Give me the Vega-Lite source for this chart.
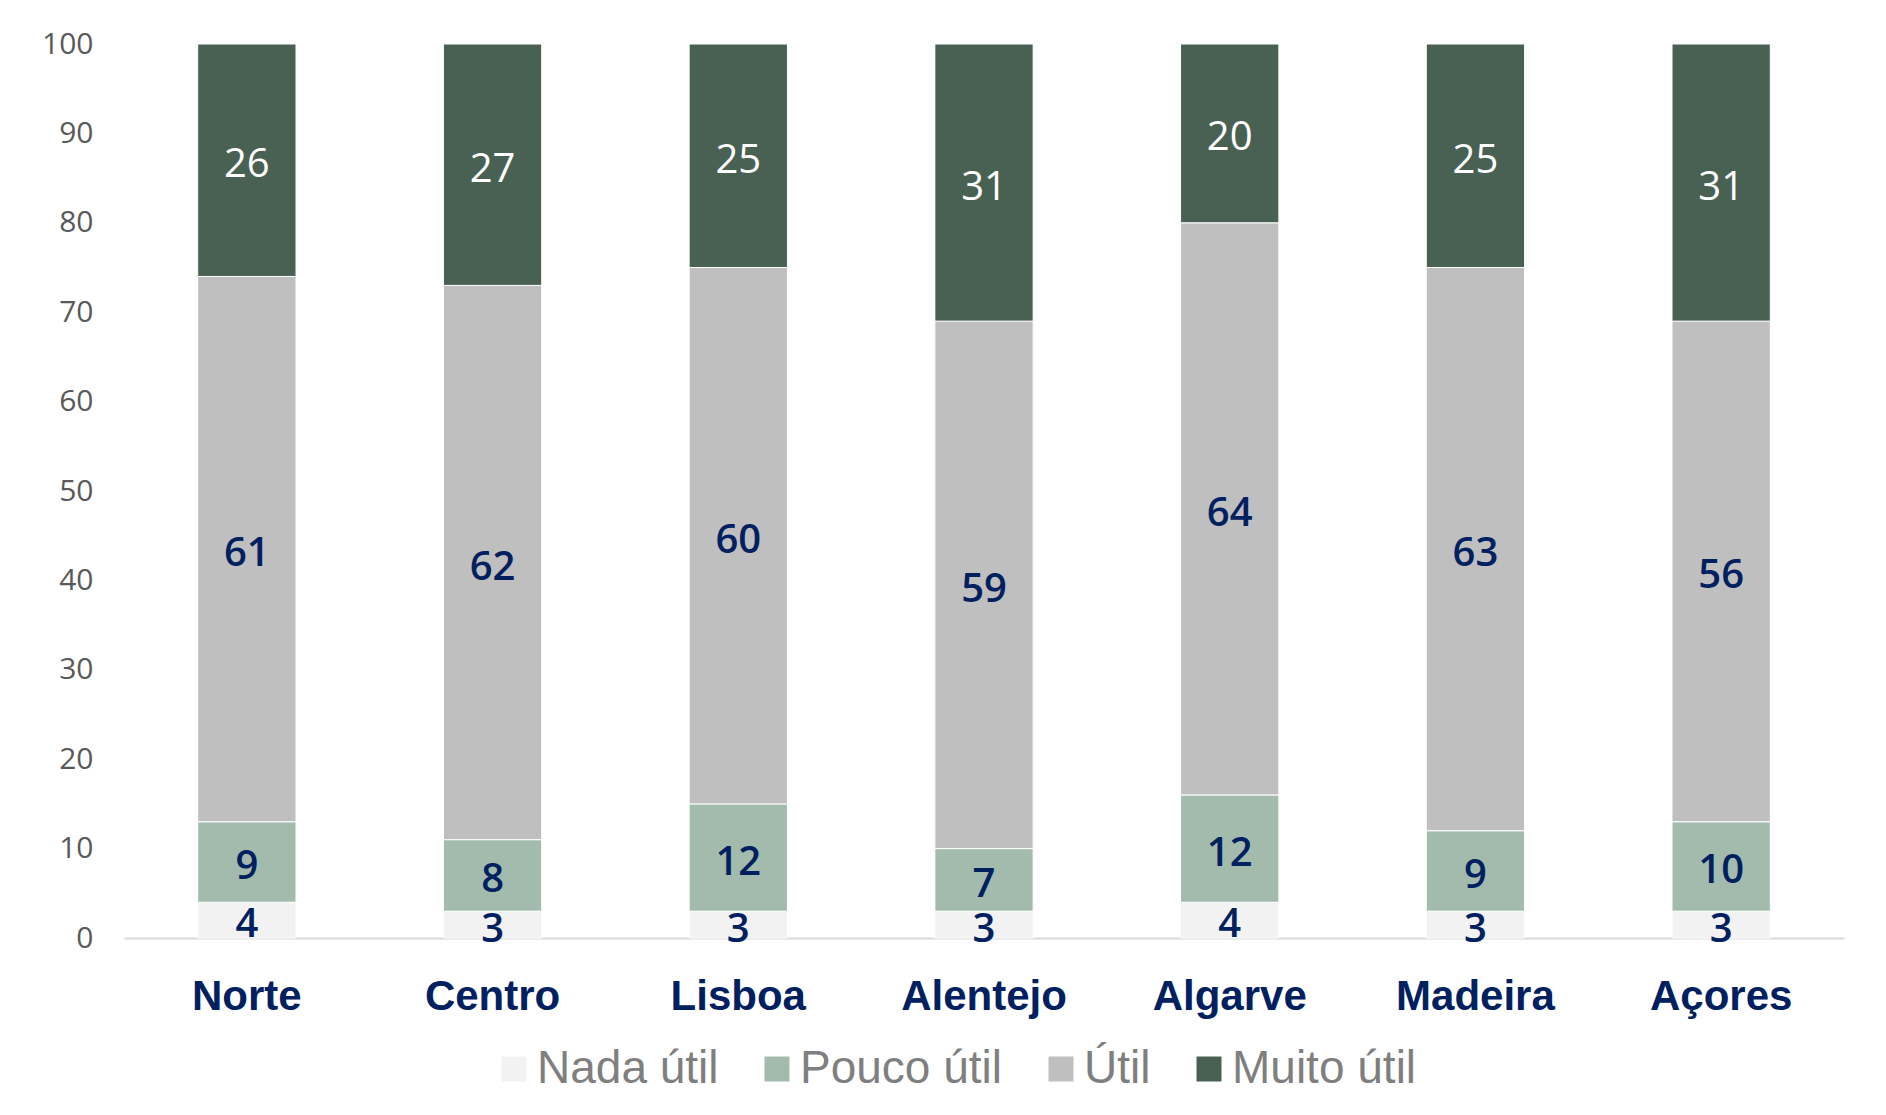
{
  "$schema": "https://vega.github.io/schema/vega-lite/v6.json",
  "width": 1720,
  "height": 894,
  "autosize": {"type": "none"},
  "padding": {"left": 124, "top": 44, "right": 42, "bottom": 177},
  "background": "#ffffff",
  "config": {"view": {"stroke": null}},
  "data": {
    "values": [
      {"region": "Norte", "cat": "Nada útil", "ord": 1, "value": 4},
      {"region": "Norte", "cat": "Pouco útil", "ord": 2, "value": 9},
      {"region": "Norte", "cat": "Útil", "ord": 3, "value": 61},
      {"region": "Norte", "cat": "Muito útil", "ord": 4, "value": 26},
      {"region": "Centro", "cat": "Nada útil", "ord": 1, "value": 3},
      {"region": "Centro", "cat": "Pouco útil", "ord": 2, "value": 8},
      {"region": "Centro", "cat": "Útil", "ord": 3, "value": 62},
      {"region": "Centro", "cat": "Muito útil", "ord": 4, "value": 27},
      {"region": "Lisboa", "cat": "Nada útil", "ord": 1, "value": 3},
      {"region": "Lisboa", "cat": "Pouco útil", "ord": 2, "value": 12},
      {"region": "Lisboa", "cat": "Útil", "ord": 3, "value": 60},
      {"region": "Lisboa", "cat": "Muito útil", "ord": 4, "value": 25},
      {"region": "Alentejo", "cat": "Nada útil", "ord": 1, "value": 3},
      {"region": "Alentejo", "cat": "Pouco útil", "ord": 2, "value": 7},
      {"region": "Alentejo", "cat": "Útil", "ord": 3, "value": 59},
      {"region": "Alentejo", "cat": "Muito útil", "ord": 4, "value": 31},
      {"region": "Algarve", "cat": "Nada útil", "ord": 1, "value": 4},
      {"region": "Algarve", "cat": "Pouco útil", "ord": 2, "value": 12},
      {"region": "Algarve", "cat": "Útil", "ord": 3, "value": 64},
      {"region": "Algarve", "cat": "Muito útil", "ord": 4, "value": 20},
      {"region": "Madeira", "cat": "Nada útil", "ord": 1, "value": 3},
      {"region": "Madeira", "cat": "Pouco útil", "ord": 2, "value": 9},
      {"region": "Madeira", "cat": "Útil", "ord": 3, "value": 63},
      {"region": "Madeira", "cat": "Muito útil", "ord": 4, "value": 25},
      {"region": "Açores", "cat": "Nada útil", "ord": 1, "value": 3},
      {"region": "Açores", "cat": "Pouco útil", "ord": 2, "value": 10},
      {"region": "Açores", "cat": "Útil", "ord": 3, "value": 56},
      {"region": "Açores", "cat": "Muito útil", "ord": 4, "value": 31}
    ]
  },
  "encoding": {
    "x": {
      "field": "region",
      "type": "nominal",
      "sort": ["Norte", "Centro", "Lisboa", "Alentejo", "Algarve", "Madeira", "Açores"],
      "scale": {"paddingInner": 0.6, "paddingOuter": 0.3},
      "axis": {
        "title": null,
        "ticks": false,
        "labelAngle": 0,
        "domainColor": "#d9d9d9",
        "domainWidth": 2,
        "labelFont": "Liberation Sans",
        "labelFontSize": 42,
        "labelFontWeight": "bold",
        "labelColor": "#002060",
        "labelPadding": 38
      }
    },
    "y": {
      "field": "value",
      "type": "quantitative",
      "stack": "zero",
      "scale": {"domain": [0, 100], "nice": false},
      "axis": {
        "title": null,
        "values": [0, 10, 20, 30, 40, 50, 60, 70, 80, 90, 100],
        "domain": false,
        "ticks": false,
        "grid": false,
        "labelFont": "Open Sans",
        "labelFontSize": 30,
        "labelColor": "#595959",
        "labelPadding": 31
      }
    },
    "order": {"field": "ord", "type": "quantitative"}
  },
  "layer": [
    {
      "mark": {"type": "bar", "stroke": "#ffffff", "strokeWidth": 1},
      "encoding": {
        "color": {
          "field": "cat",
          "type": "nominal",
          "scale": {
            "domain": ["Nada útil", "Pouco útil", "Útil", "Muito útil"],
            "range": ["#f2f2f2", "#a2bbad", "#bfbfbf", "#486152"]
          },
          "legend": {
            "title": null,
            "orient": "none",
            "legendX": 367,
            "legendY": 1002,
            "direction": "horizontal",
            "symbolType": "square",
            "symbolSize": 625,
            "symbolStrokeWidth": 0,
            "labelFont": "Liberation Sans",
            "labelFontSize": 46,
            "labelColor": "#7f7f7f",
            "labelOffset": 0,
            "columnPadding": 35,
            "padding": 0,
            "labelLimit": 400
          }
        }
      }
    },
    {
      "mark": {"type": "text", "font": "Open Sans", "fontSize": 40, "fontWeight": 600, "color": "#002060", "baseline": "middle", "dy": 5},
      "encoding": {
        "y": {"field": "value", "type": "quantitative", "stack": "zero", "bandPosition": 0.5},
        "detail": {"field": "cat", "type": "nominal"},
        "text": {"condition": {"test": "datum.cat !== 'Muito útil'", "field": "value", "type": "quantitative"}, "value": ""}
      }
    },
    {
      "mark": {"type": "text", "font": "Open Sans", "fontSize": 40, "fontWeight": 500, "color": "#ffffff", "baseline": "middle", "dy": 5},
      "encoding": {
        "y": {"field": "value", "type": "quantitative", "stack": "zero", "bandPosition": 0.5},
        "detail": {"field": "cat", "type": "nominal"},
        "text": {"condition": {"test": "datum.cat === 'Muito útil'", "field": "value", "type": "quantitative"}, "value": ""}
      }
    }
  ]
}
